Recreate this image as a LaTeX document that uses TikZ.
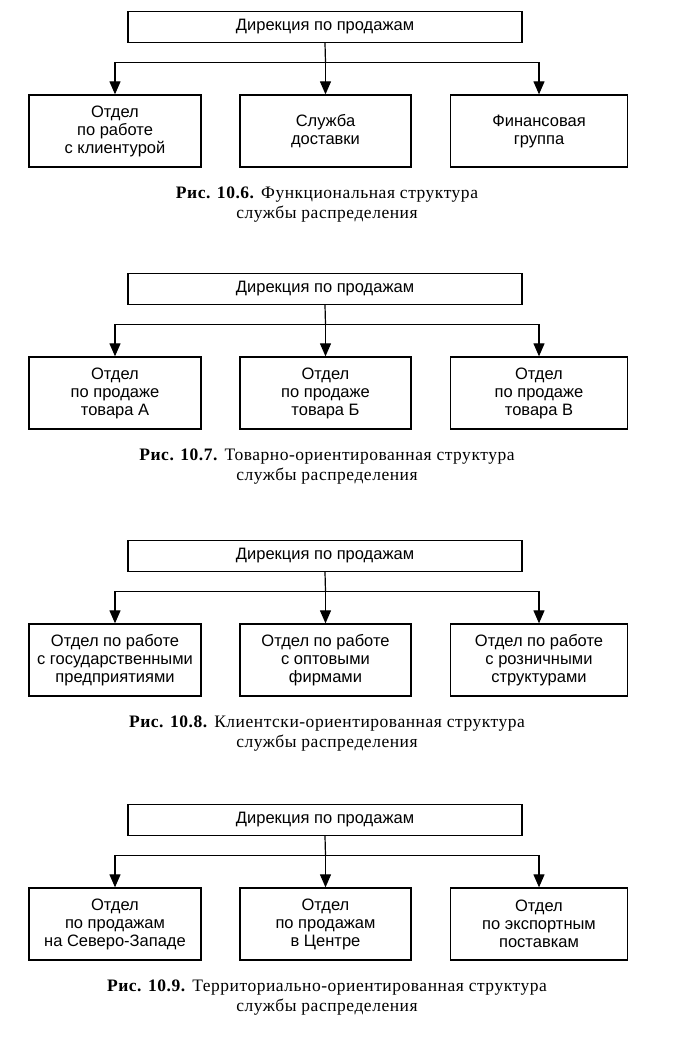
\documentclass[tikz,border=0pt]{standalone}
\usepackage{fontspec}
\setmainfont{Liberation Serif}
\newfontfamily\boxfont{Liberation Sans}
\newfontfamily\capfont[LetterSpace=3]{Liberation Serif}
\usetikzlibrary{arrows.meta}
\tikzset{
  topbox/.style={draw, line width=1.3pt, minimum width=394pt, minimum height=31pt, inner sep=0pt,
    font=\boxfont\fontsize{16.5}{18}\selectfont},
  subbox/.style={draw, line width=1.3pt, minimum height=72pt, inner sep=0pt, align=center,
    font=\boxfont\fontsize{16.5}{18}\selectfont},
  link/.style={line width=1.2pt},
  arr/.style={line width=1.2pt, -{Triangle[length=13pt,width=11pt]}},
  caption/.style={align=center, inner sep=0pt, anchor=base, font=\capfont\fontsize{17.5}{20}\selectfont}
}
\newcommand{\orgchart}[6]{%
  \node[topbox] (top#2) at (325,#1+27) {Дирекция по продажам};
  \node[subbox, minimum width=172pt] (a#2) at (115,#1+131) {#3};
  \node[subbox, minimum width=171pt] (b#2) at (325.5,#1+131) {#4};
  \node[subbox, minimum width=177pt] (c#2) at (539,#1+131) {#5};
  \coordinate (j#2) at (325.5,#1+62.5);
  \draw[link] (top#2.south) -- (j#2);
  \draw[arr] (j#2) -- (b#2.north);
  \draw[arr] (j#2) -| (a#2.north);
  \draw[arr] (j#2) -| (c#2.north);
  \node[caption] (cap#2) at (327,#1+218) {#6};
}
\begin{document}
\begin{tikzpicture}[x=1pt,y=-1pt]
\useasboundingbox (0,0) rectangle (692,1041);
\fill[white] (0,0) rectangle (692,1041);
\orgchart{0}{one}{Отдел\\по работе\\с клиентурой}{Служба\\доставки}{Финансовая\\группа}{\textbf{Рис. 10.6.} Функциональная структура\\службы распределения}
\orgchart{262}{two}{Отдел\\по продаже\\товара А}{Отдел\\по продаже\\товара Б}{Отдел\\по продаже\\товара В}{\textbf{Рис. 10.7.} Товарно-ориентированная структура\\службы распределения}
\orgchart{529}{three}{Отдел по работе\\с государственными\\предприятиями}{Отдел по работе\\с оптовыми\\фирмами}{Отдел по работе\\с розничными\\структурами}{\textbf{Рис. 10.8.} Клиентски-ориентированная структура\\службы распределения}
\orgchart{793}{four}{Отдел\\по продажам\\на Северо-Западе}{Отдел\\по продажам\\в Центре}{Отдел\\по экспортным\\поставкам}{\textbf{Рис. 10.9.} Территориально-ориентированная структура\\службы распределения}
\end{tikzpicture}
\end{document}
